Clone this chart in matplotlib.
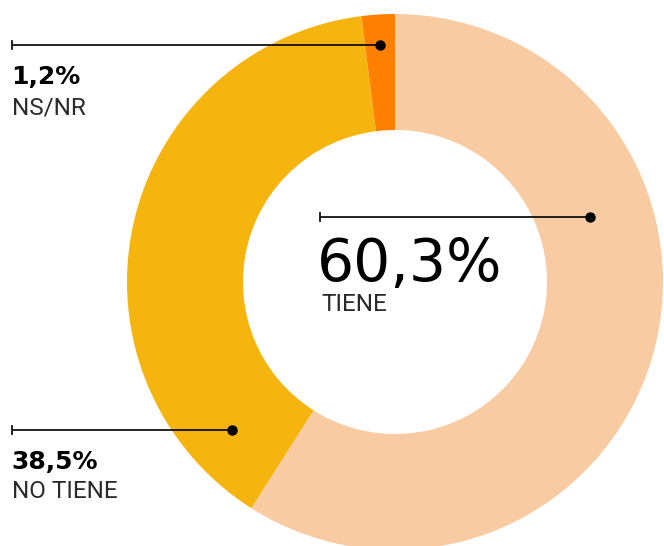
import matplotlib
matplotlib.use("Agg")
import matplotlib.pyplot as plt

# Data
categories = ["TIENE", "NO TIENE", "NS/NR"]
value_labels = ["60,3%", "38,5%", "1,2%"]
slice_values = [59, 39, 2]   # sizes as drawn in the reference
colors = ["#F9CBA3", "#F6B40E", "#FF8000"]

W, H = 664, 546
fig = plt.figure(figsize=(W / 100, H / 100), dpi=100)
ax = fig.add_axes([0, 0, 1, 1])

def Y(py):
    return H - py

cx, cy = 395, 282
r_out, r_in = 268, 152

ax.pie(slice_values, colors=colors, startangle=90, counterclock=False,
       center=(cx, Y(cy)), radius=r_out,
       wedgeprops=dict(width=r_out - r_in, linewidth=0, antialiased=True))
ax.set_xlim(0, W)
ax.set_ylim(0, H)
ax.set_aspect("equal")
ax.axis("off")

line_col = "#111111"

def leader(x0, x1, py):
    ax.plot([x0, x1], [Y(py), Y(py)], color=line_col, lw=1.3, solid_capstyle="butt")
    ax.plot([x0, x0], [Y(py - 4), Y(py + 4)], color=line_col, lw=1.3)
    ax.plot([x1], [Y(py)], marker="o", ms=6.5, color="black", mec="black")

# leaders: TIENE, NO TIENE, NS/NR
leader(320, 590, 217)
leader(12, 232, 430)
leader(12, 380, 45)

label_font = ["Roboto", "DejaVu Sans"]
label_col = "#2a2a2a"

# TIENE (inside hole)
ax.text(317, Y(281), value_labels[0], fontsize=42, color="black",
        family="DejaVu Sans", va="baseline", ha="left")
ax.text(321, Y(311), categories[0], fontsize=17.5, color=label_col,
        family=label_font, fontweight="normal", va="baseline", ha="left")

# NO TIENE
ax.text(11, Y(469), value_labels[1], fontsize=18, fontweight="bold", color="black",
        family="DejaVu Sans", va="baseline", ha="left")
ax.text(12, Y(498), categories[1], fontsize=17.5, color=label_col,
        family=label_font, fontweight="normal", va="baseline", ha="left")

# NS/NR
ax.text(11, Y(84), value_labels[2], fontsize=18, fontweight="bold", color="black",
        family="DejaVu Sans", va="baseline", ha="left")
ax.text(12, Y(114), categories[2], fontsize=17.5, color=label_col,
        family=label_font, fontweight="normal", va="baseline", ha="left")

fig.savefig("out.png", dpi=100)
